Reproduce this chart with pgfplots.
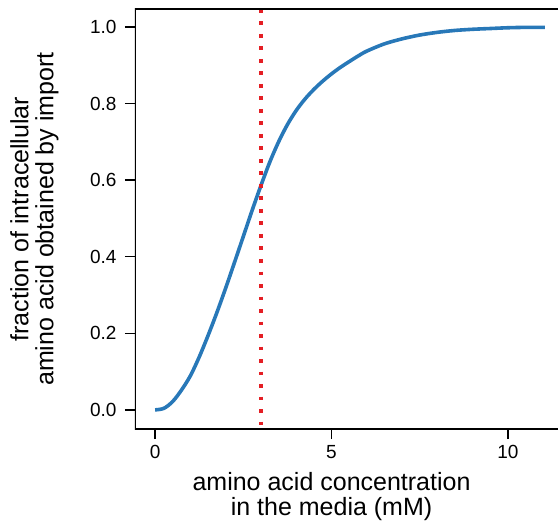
\documentclass[border=0pt]{standalone}
\usepackage{fontspec}
\setmainfont{Liberation Sans}
\usepackage{pgfplots}
\pgfplotsset{compat=1.18}

\definecolor{curveblue}{RGB}{40,120,184}
\definecolor{dotred}{RGB}{228,30,36}

\begin{document}
\begin{tikzpicture}
\begin{axis}[
  name=ax,
  scale only axis,
  width=423pt, height=420pt,
  xmin=-0.57, xmax=11.42,
  ymin=-0.05, ymax=1.047,
  axis line style={draw=none},
  xtick={0,5,10},
  ytick={0,0.2,0.4,0.6,0.8,1.0},
  /pgf/number format/assume math mode=true,
  tick align=outside,
  xtick pos=left, ytick pos=left,
  major tick length=10pt,
  tick style={black, line width=1.5pt},
  ticklabel style={font=\fontsize{19}{22}\selectfont},
  yticklabel style={/pgf/number format/fixed, /pgf/number format/fixed zerofill,
    /pgf/number format/precision=1, xshift=-5pt},
  xticklabel style={yshift=-3pt},
  xlabel={amino acid concentration\\in the media (mM)},
  ylabel={fraction of intracellular\\amino acid obtained by import},
  label style={font=\fontsize{25}{25}\selectfont, align=center},
  xlabel style={at={([yshift=-68pt]rel axis cs:0.4646,0)}, anchor=center},
  ylabel style={at={([xshift=-100.5pt]rel axis cs:0,0.5)}, anchor=center},
]
\addplot[curveblue, line width=3.6pt, smooth, tension=0.5] coordinates {
  (0,0) (0.25,0.004) (0.5,0.022) (0.75,0.052) (1.0,0.089) (1.25,0.138)
  (1.5,0.194) (1.75,0.254) (2.0,0.318) (2.25,0.385) (2.5,0.453) (2.75,0.521)
  (3.0,0.586) (3.25,0.647) (3.5,0.700) (3.75,0.745) (4.0,0.782) (4.25,0.812)
  (4.5,0.837) (4.75,0.8585) (5.0,0.8775) (5.25,0.8945) (5.5,0.9095) (5.75,0.924)
  (6.0,0.937) (6.5,0.956) (7.0,0.969) (7.5,0.979) (8.0,0.986) (8.5,0.991)
  (9.0,0.994) (9.5,0.996) (10.0,0.998) (10.5,0.999) (11.05,0.999)
};
\addplot[dotred, line width=3.6pt, dash pattern=on 3.6pt off 8.9pt] coordinates {
  (3,1.047) (3,-0.05)
};
\draw[black, line width=1.6pt] (rel axis cs:1,1) -- (rel axis cs:0,1) -- (rel axis cs:0,0) -- (rel axis cs:1,0);
\end{axis}
\pgfresetboundingbox
\path ([xshift=-135pt,yshift=-95pt]ax.south west) rectangle ([yshift=9pt]ax.north east);
\end{tikzpicture}
\end{document}
